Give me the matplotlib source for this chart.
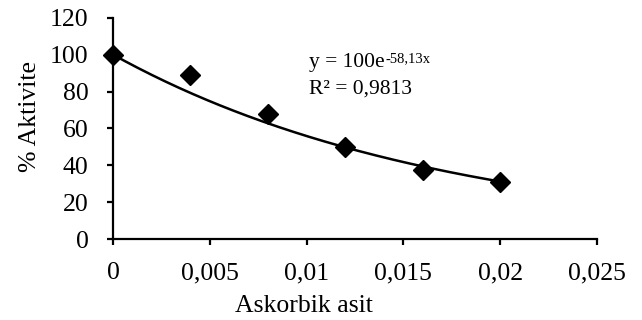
import numpy as np
import matplotlib
matplotlib.use("Agg")
import matplotlib.pyplot as plt
from matplotlib.ticker import FuncFormatter

conc = [0, 0.004, 0.008, 0.012, 0.016, 0.02]
activity = [100, 89, 67.7, 50.1, 37.5, 31]
fit_a = 100
fit_b = 58.13
x_ticks = [0, 0.005, 0.01, 0.015, 0.02, 0.025]
y_ticks = [0, 20, 40, 60, 80, 100, 120]

plt.rcParams['font.family'] = ['Liberation Serif', 'DejaVu Serif']

fig = plt.figure(figsize=(6.42, 3.2), dpi=100)
ax = fig.add_axes([0.176, 0.2522, 0.754, 0.6925])

xf = np.linspace(0, conc[-1], 200)
ax.plot(xf, fit_a * np.exp(-fit_b * xf), color='black', lw=1.8, zorder=2)
ax.plot(conc, activity, linestyle='none', marker='D', markersize=10.5,
        color='black', zorder=3, clip_on=False)

ax.set_xlim(0, 0.025)
ax.set_ylim(0, 120)
ax.set_xticks(x_ticks)
ax.set_yticks(y_ticks)

def fmt(v, pos):
    return ('%g' % v).replace('.', ',')
ax.xaxis.set_major_formatter(FuncFormatter(fmt))

for s in ['top', 'right']:
    ax.spines[s].set_visible(False)
for s in ['left', 'bottom']:
    ax.spines[s].set_linewidth(1.6)
ax.tick_params(direction='out', length=4.5, width=1.6, labelsize=18.5)
ax.tick_params(axis='x', pad=12)
ax.tick_params(axis='y', pad=13)

ax.set_xlabel('Askorbik asit', fontsize=18.5)
ax.set_ylabel('% Aktivite', fontsize=18.5)
ax.xaxis.set_label_coords(0.395, -0.251)
ax.yaxis.set_label_coords(-0.1496, 0.552)

t1 = ax.text(0.010124, 93.3, 'y = 100e', fontsize=15.5, va='baseline', ha='left')
ax.annotate('-58,13x', xy=(1, 0), xycoords=t1, xytext=(0.3, 7),
            textcoords='offset points', fontsize=10.5, va='baseline', ha='left')
ax.text(0.010124, 78.7, 'R² = 0,9813', fontsize=15.5, va='baseline', ha='left')

fig.savefig('out.png', dpi=100)
